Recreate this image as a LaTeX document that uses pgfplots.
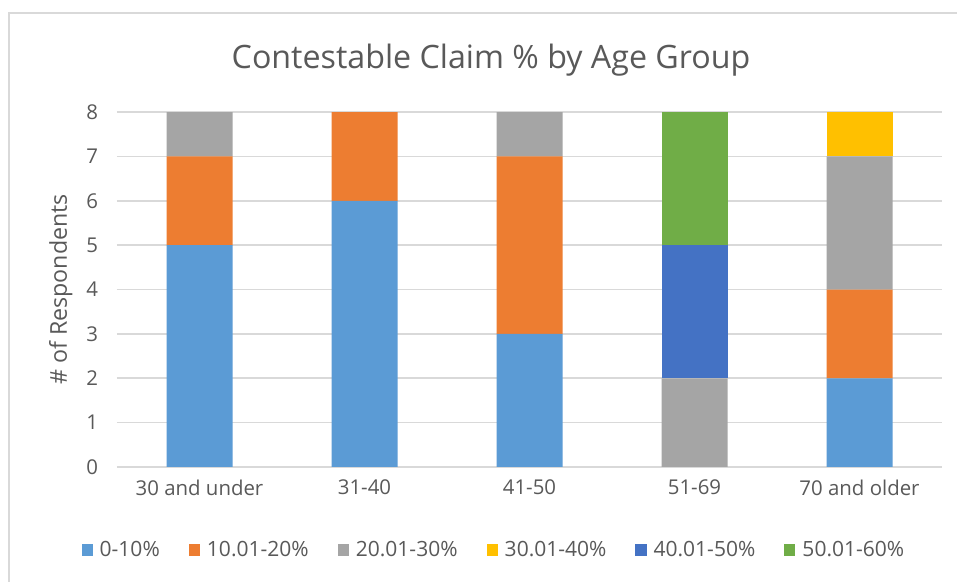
\documentclass[border=0pt]{standalone}
\usepackage{pgfplots}
\pgfplotsset{compat=1.18}
\usepackage{fontspec}
\setmainfont{Open Sans}
\definecolor{txt}{HTML}{595959}
\definecolor{gridc}{HTML}{D9D9D9}
\definecolor{cA}{HTML}{5B9BD5}
\definecolor{cB}{HTML}{ED7D31}
\definecolor{cC}{HTML}{A5A5A5}
\definecolor{cD}{HTML}{FFC000}
\definecolor{cE}{HTML}{4472C4}
\definecolor{cF}{HTML}{70AD47}
\begin{document}
\begin{tikzpicture}[x=1pt,y=1pt]
\useasboundingbox (0,0) rectangle (478.5,291);
\clip (0,0) rectangle (478.5,291);
\fill[white] (0,0) rectangle (478.5,291);
\draw[gridc, line width=1pt] (4.5,-20) rectangle (500,284.5);
\node[txt, font=\fontsize{16.1}{19}\selectfont] at (245.5,261) {Contestable Claim \% by Age Group};
\begin{axis}[
  at={(58.5pt,57.5pt)}, anchor=south west,
  scale only axis, width=412.5pt, height=177.5pt,
  ybar stacked, bar width=33pt,
  xmin=-0.5, xmax=4.5, ymin=0, ymax=8,
  xtick={0,1,2,3,4},
  xticklabels={30 and under,31-40,41-50,51-69,70 and older},
  ytick={0,1,2,3,4,5,6,7,8},
  major tick length=0pt,
  axis line style={draw=none},
  ymajorgrids, grid style={gridc, line width=0.8pt},
  tick label style={txt, font=\fontsize{10.2}{12}\selectfont},
  /pgf/number format/assume math mode=true,
  yticklabel style={xshift=-6pt},
  xticklabel style={yshift=-3pt},
  ylabel={\# of Respondents},
  ylabel style={txt, font=\fontsize{11.6}{13}\selectfont, yshift=0pt},
  legend columns=6,
  legend style={at={(0.458,-0.234)}, anchor=center, draw=none, fill=none,
    font=\fontsize{10.5}{12}\selectfont, text=txt,
    /tikz/every odd column/.append style={column sep=1.5pt},
    /tikz/every even column/.append style={column sep=12.5pt}},
  legend image code/.code={\fill[#1] (0pt,-2.8pt) rectangle (5.6pt,2.8pt);},
]
\addplot[fill=cA, draw=none] coordinates {(0,5) (1,6) (2,3) (3,0) (4,2)};
\addplot[fill=cB, draw=none] coordinates {(0,2) (1,2) (2,4) (3,0) (4,2)};
\addplot[fill=cC, draw=none] coordinates {(0,1) (1,0) (2,1) (3,2) (4,3)};
\addplot[fill=cD, draw=none] coordinates {(0,0) (1,0) (2,0) (3,0) (4,1)};
\addplot[fill=cE, draw=none] coordinates {(0,0) (1,0) (2,0) (3,3) (4,0)};
\addplot[fill=cF, draw=none] coordinates {(0,0) (1,0) (2,0) (3,3) (4,0)};
\legend{0-10\%,10.01-20\%,20.01-30\%,30.01-40\%,40.01-50\%,50.01-60\%}
\end{axis}
\end{tikzpicture}
\end{document}
